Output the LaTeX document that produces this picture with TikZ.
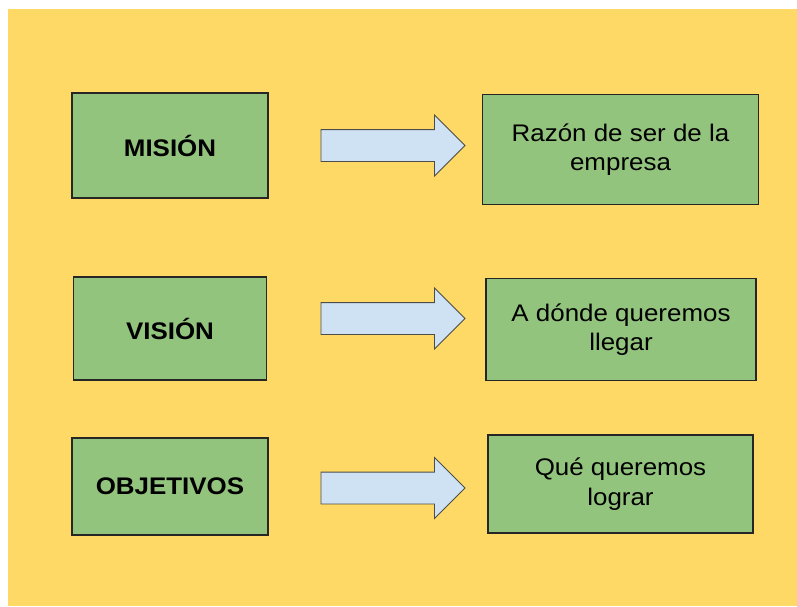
\documentclass[tikz,border=0pt]{standalone}
\usepackage{fontspec}
\setmainfont{Liberation Sans}[FakeStretch=1.08]
\usepackage{tikz}
\usetikzlibrary{shapes.geometric, shapes.arrows}
\definecolor{fondo}{HTML}{FFD966}
\definecolor{verde}{HTML}{93C47D}
\definecolor{celeste}{HTML}{CFE2F3}
\tikzstyle{concepto} = [rectangle, minimum width=196pt, minimum height=105pt, text centered, draw=black!85, line width=1.6pt, fill=verde, font=\bfseries\fontsize{24}{29}\selectfont]
\tikzstyle{definicion} = [rectangle, minimum width=270pt, minimum height=102pt, align=center, draw=black!85, line width=1.6pt, fill=verde, font=\fontsize{24}{29.5}\selectfont]
\tikzstyle{flecha} = [single arrow, minimum height=144pt, inner xsep=0pt, inner ysep=15.5pt, text height=0pt, text depth=0pt, single arrow head extend=14.5pt, draw=black!70, line width=0.9pt, fill=celeste]

\begin{document}
\begin{tikzpicture}[x=1pt, y=1pt, node distance=183pt]
		\useasboundingbox (0,0) rectangle (797,-606);
		\fill [fondo] (8,-9) rectangle (797,-606);
		
		\node (mision) [concepto] at (170,-145.5) {MISIÓN};
		\node (vision) [concepto, below of=mision, minimum width=193pt, minimum height=103pt] {VISIÓN};
		\node (objetivos) [concepto, below of=vision, yshift=25pt, minimum height=97pt] {OBJETIVOS};
		
		\node (flecha1) [flecha, right of=mision, xshift=32pt] {};
		\node (flecha2) [flecha, right of=vision, xshift=32pt, yshift=10pt] {};
		\node (flecha3) [flecha, right of=objetivos, xshift=32pt, yshift=-1.5pt] {};
		
		\node (razon) [definicion, right of=flecha1, xshift=52.5pt, yshift=-4pt, minimum width=276pt, minimum height=110pt] {Razón de ser de la\\empresa};
		\node (adonde) [definicion, right of=flecha2, xshift=53pt, yshift=-11pt] {A dónde queremos\\llegar};
		\node (que) [definicion, right of=flecha3, xshift=52.5pt, yshift=4pt, minimum width=265pt, minimum height=98pt] {Qué queremos\\lograr};
		
		\end{tikzpicture}
\end{document}
